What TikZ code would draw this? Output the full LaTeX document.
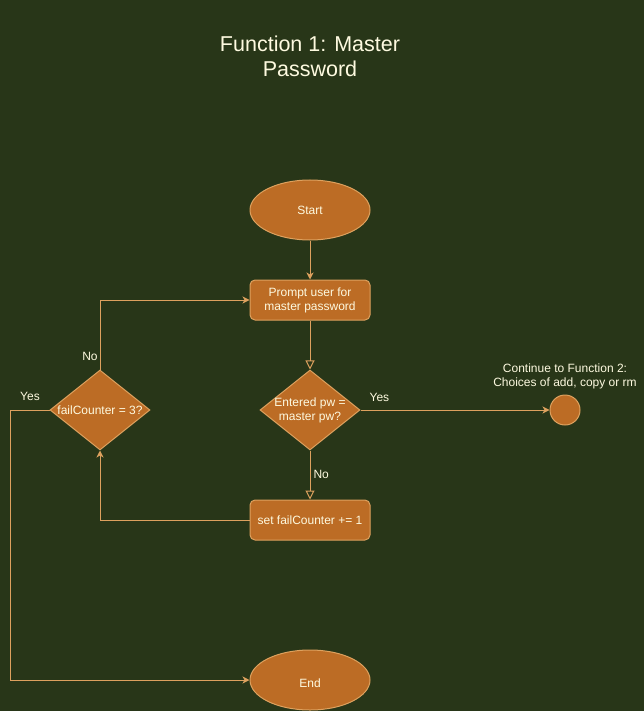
\documentclass[tikz,border=0pt]{standalone}
\usepackage{fontspec}
\setmainfont{Liberation Sans}
\usetikzlibrary{shapes.geometric,arrows.meta}
\definecolor{bgc}{HTML}{283618}
\definecolor{fillc}{HTML}{BC6C25}
\definecolor{linec}{HTML}{DDA15E}
\definecolor{txtc}{HTML}{FEFAE0}
\tikzset{
  base/.style={draw=linec, fill=fillc, line width=1pt, text=txtc, font=\fontsize{12}{14}\selectfont, inner sep=0pt, align=center},
  term/.style={base, ellipse, minimum width=120pt, minimum height=60pt},
  proc/.style={base, rectangle, rounded corners=5pt, minimum width=120pt, minimum height=40pt},
  dia/.style={base, diamond, minimum width=100pt, minimum height=80pt},
  conn/.style={base, circle, minimum size=30pt},
  txt/.style={text=txtc, font=\fontsize{12}{14}\selectfont, align=center, inner sep=0pt},
  lbl/.style={text=txtc, font=\fontsize{12}{14}\selectfont, inner sep=0pt},
  edge/.style={draw=linec, line width=1pt, -{Stealth[length=7pt,width=7pt,inset=2pt]}},
  hedge/.style={draw=linec, line width=1pt, -{Triangle[open,length=9pt,width=9pt]}},
}
\begin{document}
\begin{tikzpicture}[x=1pt,y=-1pt]
\fill[bgc] (0,0) rectangle (644,711);
\useasboundingbox (0,0) rectangle (644,711);

\node[text=txtc, font=\fontsize{21.5}{25}\selectfont, align=center] (title) at (310,56) {Function 1: Master\\Password};

\node[term] (start) at (310,210) {Start};
\node[proc] (prompt) at (310,300) {Prompt user for\\master password};
\node[dia] (d1) at (310,410) {};
\node[txt] (d1t) at (310,410) {Entered pw =\\master pw?};
\node[proc] (inc) at (310,520) {set failCounter += 1};
\node[dia] (d2) at (100,410) {};
\node[txt] (d2t) at (100,410) {failCounter = 3?};
\node[term] (end) at (310,680) {};
\node[txt] (endt) at (310,683) {End};
\node[conn] (cont) at (565,410) {};
\node[txt] (contt) at (565,376) {Continue to Function 2:\\Choices of add, copy or rm};

\coordinate (c1) at (100,520);
\coordinate (c2) at (100,300);
\coordinate (c3) at (10,410);
\coordinate (c4) at (10,680);

\draw[edge] (start) -- (prompt);
\draw[hedge] (prompt) -- (d1);
\draw[hedge] (d1) -- node[lbl, right, xshift=3pt, yshift=1pt] {No} (inc);
\draw[edge] (d1.east) -- node[lbl, pos=0.1, above, yshift=8pt] {Yes} (cont.west);
\draw[edge] (inc.west) -- (c1) -- (d2.south);
\draw[edge] (d2.north) -- (c2) -- (prompt.west);
\draw[edge] (d2.west) -- (c3) -- (c4) -- (end.west);

\node[lbl] (no2) at (90,356) {No};
\node[lbl] (yes2) at (30,396) {Yes};
\end{tikzpicture}
\end{document}
